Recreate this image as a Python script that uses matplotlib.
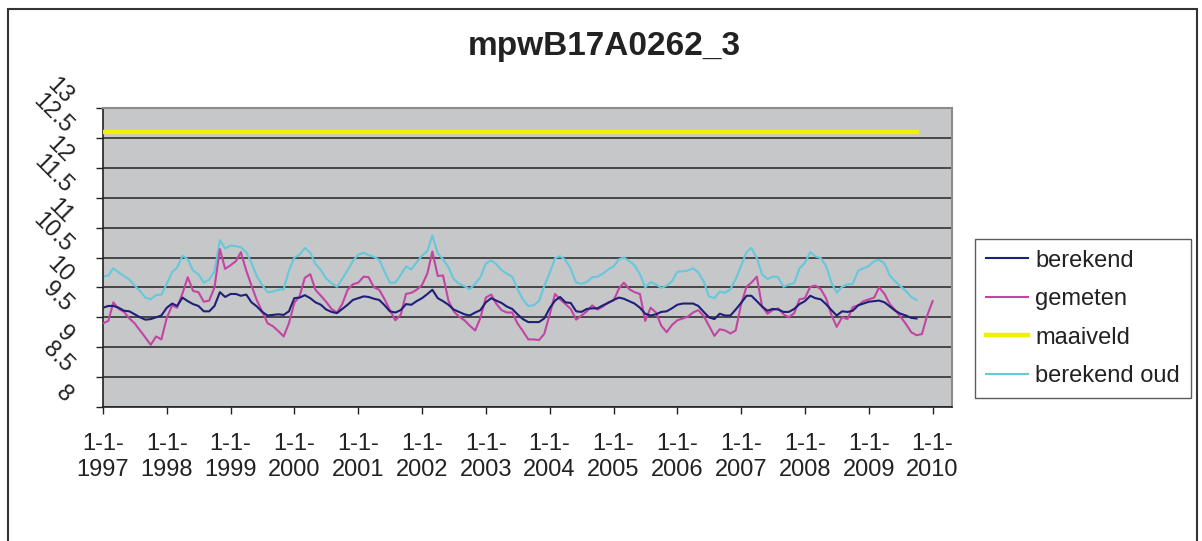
import matplotlib
matplotlib.use("Agg")
import matplotlib.pyplot as plt
import matplotlib.transforms as mtransforms
import matplotlib.patches as mpatches
import pandas as pd

plt.rcParams['font.family'] = ['Liberation Sans', 'DejaVu Sans']

# monthly values, starting 1-1-1997
start = '1997-01-01'

berekend = [
    9.66, 9.69, 9.69, 9.66, 9.61, 9.60, 9.55, 9.50, 9.46, 9.47,
    9.50, 9.53, 9.66, 9.73, 9.69, 9.83, 9.77, 9.72, 9.69, 9.60,
    9.60, 9.69, 9.92, 9.84, 9.89, 9.89, 9.86, 9.88, 9.75, 9.68,
    9.59, 9.53, 9.54, 9.55, 9.54, 9.60, 9.82, 9.83, 9.87, 9.82,
    9.75, 9.71, 9.63, 9.59, 9.57, 9.64, 9.71, 9.79, 9.82, 9.85,
    9.84, 9.81, 9.79, 9.70, 9.60, 9.58, 9.62, 9.72, 9.71, 9.77,
    9.82, 9.89, 9.96, 9.82, 9.77, 9.71, 9.63, 9.59, 9.55, 9.53,
    9.58, 9.62, 9.75, 9.82, 9.78, 9.74, 9.68, 9.64, 9.55, 9.47,
    9.42, 9.42, 9.42, 9.48, 9.65, 9.78, 9.84, 9.75, 9.74, 9.60,
    9.59, 9.64, 9.65, 9.65, 9.70, 9.74, 9.79, 9.83, 9.81, 9.77,
    9.73, 9.66, 9.56, 9.53, 9.55, 9.59, 9.60, 9.65, 9.71, 9.73,
    9.73, 9.73, 9.69, 9.59, 9.50, 9.47, 9.56, 9.53, 9.53, 9.63,
    9.74, 9.86, 9.86, 9.77, 9.68, 9.61, 9.64, 9.63, 9.59, 9.59,
    9.64, 9.72, 9.77, 9.86, 9.82, 9.80, 9.72, 9.62, 9.53, 9.60,
    9.59, 9.61, 9.70, 9.73, 9.76, 9.77, 9.78, 9.75, 9.68, 9.61,
    9.56, 9.53, 9.49, 9.48,
]

berekend_oud = [
    10.18, 10.20, 10.32, 10.25, 10.19, 10.13, 10.03, 9.94, 9.83, 9.80,
    9.87, 9.88, 10.06, 10.26, 10.33, 10.53, 10.47, 10.28, 10.22, 10.08,
    10.13, 10.27, 10.79, 10.65, 10.70, 10.69, 10.67, 10.59, 10.41, 10.18,
    10.04, 9.92, 9.93, 9.96, 9.97, 10.28, 10.50, 10.55, 10.66, 10.58,
    10.39, 10.29, 10.15, 10.07, 10.01, 10.14, 10.29, 10.44, 10.55, 10.58,
    10.54, 10.51, 10.46, 10.26, 10.08, 10.08, 10.21, 10.35, 10.30, 10.42,
    10.53, 10.61, 10.87, 10.57, 10.47, 10.34, 10.14, 10.06, 10.02, 9.97,
    10.06, 10.17, 10.40, 10.45, 10.39, 10.29, 10.23, 10.18, 9.97, 9.80,
    9.69, 9.70, 9.77, 10.02, 10.24, 10.49, 10.52, 10.46, 10.31, 10.08,
    10.06, 10.09, 10.17, 10.18, 10.23, 10.30, 10.35, 10.47, 10.50, 10.44,
    10.37, 10.22, 10.00, 10.09, 10.05, 9.99, 10.03, 10.10, 10.26, 10.27,
    10.28, 10.32, 10.25, 10.10, 9.85, 9.82, 9.93, 9.91, 9.97, 10.14,
    10.36, 10.59, 10.66, 10.49, 10.22, 10.14, 10.18, 10.17, 10.01, 10.05,
    10.07, 10.32, 10.41, 10.59, 10.52, 10.49, 10.36, 10.08, 9.91, 10.01,
    10.05, 10.06, 10.28, 10.32, 10.36, 10.44, 10.46, 10.40, 10.20, 10.10,
    10.02, 9.94, 9.84, 9.79,
]

gemeten = [
    9.40, 9.44, 9.75, 9.64, 9.59, 9.48, 9.40, 9.28, 9.16, 9.04,
    9.18, 9.13, 9.49, 9.70, 9.66, 9.90, 10.17, 9.94, 9.92, 9.76,
    9.78, 10.00, 10.64, 10.31, 10.37, 10.44, 10.59, 10.28, 10.03, 9.78,
    9.60, 9.40, 9.35, 9.27, 9.18, 9.40, 9.74, 9.86, 10.16, 10.22,
    9.96, 9.86, 9.76, 9.64, 9.58, 9.72, 9.96, 10.05, 10.08, 10.18,
    10.17, 10.00, 9.96, 9.80, 9.62, 9.45, 9.54, 9.89, 9.91, 9.96,
    10.04, 10.24, 10.60, 10.19, 10.20, 9.78, 9.60, 9.51, 9.45, 9.36,
    9.28, 9.49, 9.83, 9.88, 9.73, 9.62, 9.58, 9.58, 9.40, 9.27,
    9.13, 9.13, 9.12, 9.22, 9.54, 9.89, 9.80, 9.72, 9.64, 9.46,
    9.53, 9.60, 9.70, 9.63, 9.68, 9.75, 9.78, 9.98, 10.08, 9.97,
    9.92, 9.89, 9.44, 9.66, 9.58, 9.36, 9.25, 9.37, 9.45, 9.48,
    9.51, 9.58, 9.62, 9.52, 9.36, 9.19, 9.30, 9.28, 9.23, 9.28,
    9.72, 10.01, 10.08, 10.18, 9.68, 9.56, 9.62, 9.65, 9.55, 9.50,
    9.57, 9.80, 9.82, 10.01, 10.03, 9.97, 9.82, 9.54, 9.34, 9.50,
    9.47, 9.67, 9.70, 9.77, 9.80, 9.83, 10.00, 9.89, 9.72, 9.62,
    9.51, 9.39, 9.25, 9.20, 9.22, 9.53, 9.77,
]

maaiveld_niveau = 12.6

years = list(range(1997, 2011))
yticks = [8, 8.5, 9, 9.5, 10, 10.5, 11, 11.5, 12, 12.5, 13]

dates_ber = pd.date_range(start, periods=len(berekend), freq='MS')
dates_gem = pd.date_range(start, periods=len(gemeten), freq='MS')
maaiveld = [maaiveld_niveau] * len(berekend)

fig = plt.figure(figsize=(12.02, 5.41), dpi=100)
ax = fig.add_axes([103 / 1202, 1 - 407 / 541, (952 - 103) / 1202, (407 - 108) / 541])
ax.set_facecolor('#c6c7c9')

ax.plot(dates_ber, berekend, color='#1f1f78', lw=1.5, label='berekend', zorder=4)
ax.plot(dates_gem, gemeten, color='#c444a4', lw=1.5, label='gemeten', zorder=3)
ax.plot(dates_ber, maaiveld, color='#f0f000', lw=3.2, label='maaiveld', zorder=3)
ax.plot(dates_ber, berekend_oud, color='#66c8dc', lw=1.5, label='berekend oud', zorder=2)

ax.set_xlim(pd.Timestamp('1997-01-01'), pd.Timestamp('2010-04-22'))
ax.set_ylim(8, 13)

# x axis: 1-1-yyyy on two lines
ax.set_xticks([pd.Timestamp(f'{y}-01-01') for y in years])
ax.set_xticklabels([f'1-1-\n{y}' for y in years], fontsize=17, color='#222222',
                   linespacing=1.2)
ax.tick_params(axis='x', direction='out', length=5, width=1, pad=14, colors='#222222')

# y axis: gridlines, rotated labels drawn as texts
ax.set_yticks(yticks)
ax.set_yticklabels([])
ax.tick_params(axis='y', direction='out', length=5, width=1, colors='#222222')
ax.yaxis.grid(True, color='#303030', lw=1.2)
ax.set_axisbelow(True)
offset = mtransforms.ScaledTranslation(-0.34, 0.08, fig.dpi_scale_trans)
for v in yticks:
    ax.text(0, v, f'{v:g}', transform=ax.get_yaxis_transform() + offset,
            rotation=-45, rotation_mode='anchor', ha='right', va='center',
            fontsize=17, color='#222222', clip_on=False)

for side in ['left', 'bottom']:
    ax.spines[side].set_color('#222222')
    ax.spines[side].set_linewidth(1.2)
for side in ['top', 'right']:
    ax.spines[side].set_color('#8c8c8c')
    ax.spines[side].set_linewidth(1.5)

fig.text(604 / 1202, 1 - 47 / 541, 'mpwB17A0262_3', ha='center', va='center',
         fontsize=24, fontweight='bold', color='#222222')

leg = ax.legend(loc='upper left', bbox_to_anchor=(975 / 1202, 1 - 239 / 541),
                bbox_transform=fig.transFigure, borderaxespad=0, fontsize=17,
                frameon=True, fancybox=False, edgecolor='#333333',
                handlelength=1.8, handletextpad=0.3, labelspacing=0.7,
                borderpad=0.45)
leg.get_frame().set_linewidth(1.0)
for t in leg.get_texts():
    t.set_color('#222222')

# outer chart border
fig.patches.append(mpatches.Rectangle((8 / 1202, -0.1), (1197 - 8) / 1202, 1.1 - 9 / 541,
                                      transform=fig.transFigure, fill=False,
                                      edgecolor='#333333', lw=1.5))

fig.savefig('out.png', dpi=100)
